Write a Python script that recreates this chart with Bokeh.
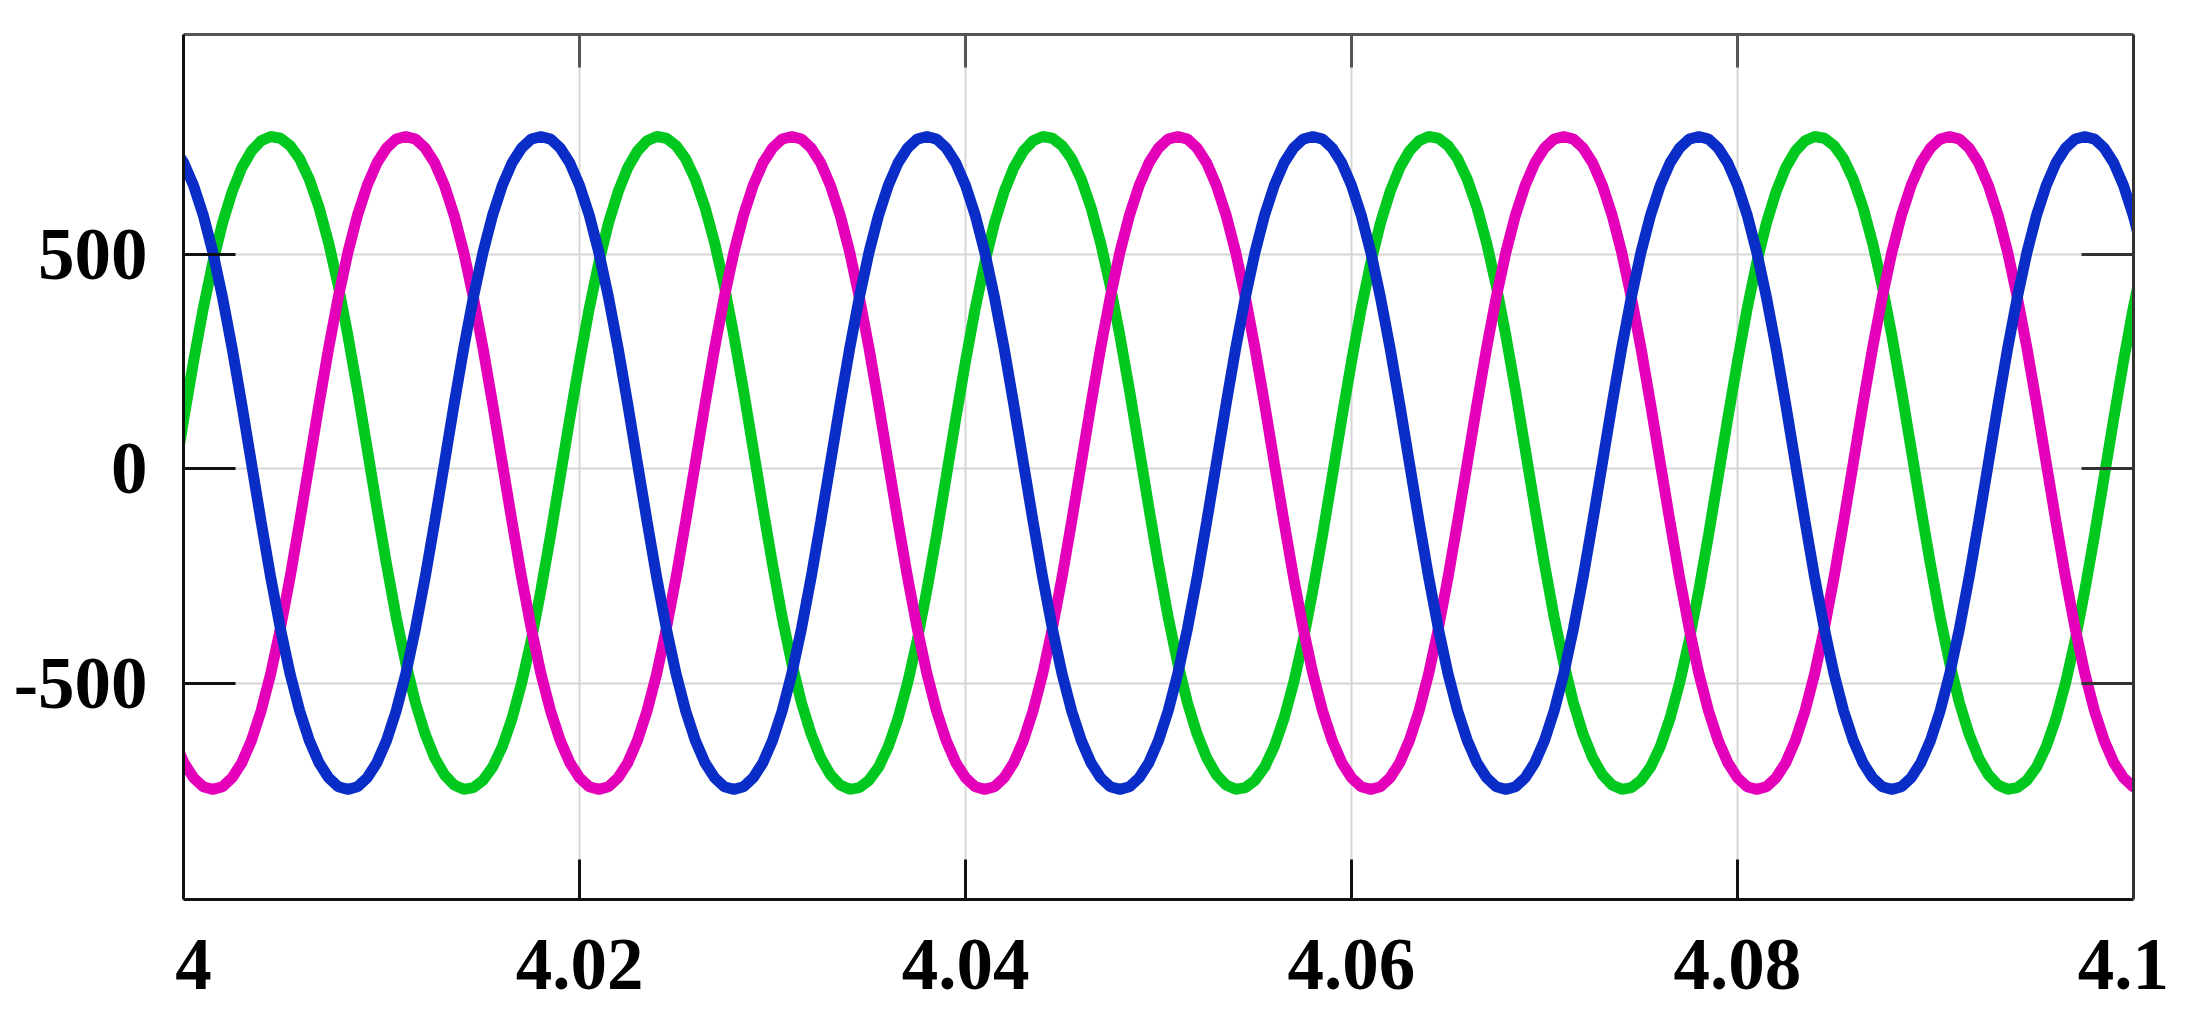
from bokeh.plotting import figure
from bokeh.models import FixedTicker, LinearAxis, Range1d
from bokeh.embed import file_html
from bokeh.resources import INLINE

# time samples (s), read every 0.5 ms
time = [
    3.999, 3.9995,
    4.0, 4.0005, 4.001, 4.0015, 4.002, 4.0025, 4.003, 4.0035, 4.004, 4.0045, 4.005, 4.0055, 4.006, 4.0065, 4.007, 4.0075, 4.008, 4.0085, 4.009, 4.0095,
    4.01, 4.0105, 4.011, 4.0115, 4.012, 4.0125, 4.013, 4.0135, 4.014, 4.0145, 4.015, 4.0155, 4.016, 4.0165, 4.017, 4.0175, 4.018, 4.0185, 4.019, 4.0195,
    4.02, 4.0205, 4.021, 4.0215, 4.022, 4.0225, 4.023, 4.0235, 4.024, 4.0245, 4.025, 4.0255, 4.026, 4.0265, 4.027, 4.0275, 4.028, 4.0285, 4.029, 4.0295,
    4.03, 4.0305, 4.031, 4.0315, 4.032, 4.0325, 4.033, 4.0335, 4.034, 4.0345, 4.035, 4.0355, 4.036, 4.0365, 4.037, 4.0375, 4.038, 4.0385, 4.039, 4.0395,
    4.04, 4.0405, 4.041, 4.0415, 4.042, 4.0425, 4.043, 4.0435, 4.044, 4.0445, 4.045, 4.0455, 4.046, 4.0465, 4.047, 4.0475, 4.048, 4.0485, 4.049, 4.0495,
    4.05, 4.0505, 4.051, 4.0515, 4.052, 4.0525, 4.053, 4.0535, 4.054, 4.0545, 4.055, 4.0555, 4.056, 4.0565, 4.057, 4.0575, 4.058, 4.0585, 4.059, 4.0595,
    4.06, 4.0605, 4.061, 4.0615, 4.062, 4.0625, 4.063, 4.0635, 4.064, 4.0645, 4.065, 4.0655, 4.066, 4.0665, 4.067, 4.0675, 4.068, 4.0685, 4.069, 4.0695,
    4.07, 4.0705, 4.071, 4.0715, 4.072, 4.0725, 4.073, 4.0735, 4.074, 4.0745, 4.075, 4.0755, 4.076, 4.0765, 4.077, 4.0775, 4.078, 4.0785, 4.079, 4.0795,
    4.08, 4.0805, 4.081, 4.0815, 4.082, 4.0825, 4.083, 4.0835, 4.084, 4.0845, 4.085, 4.0855, 4.086, 4.0865, 4.087, 4.0875, 4.088, 4.0885, 4.089, 4.0895,
    4.09, 4.0905, 4.091, 4.0915, 4.092, 4.0925, 4.093, 4.0935, 4.094, 4.0945, 4.095, 4.0955, 4.096, 4.0965, 4.097, 4.0975, 4.098, 4.0985, 4.099, 4.0995,
    4.1, 4.1005, 4.101,
]

phase_green = [
    -19, 118,
    250, 373, 481, 573, 646, 702, 741, 765, 775, 771, 754, 723, 675, 610, 527, 427, 310, 182, 46, -91,
    -223, -346, -454, -546, -619, -675, -714, -738, -748, -744, -727, -696, -648, -583, -500, -400, -283, -155, -19, 118,
    250, 373, 481, 573, 646, 702, 741, 765, 775, 771, 754, 723, 675, 610, 527, 427, 310, 182, 46, -91,
    -223, -346, -454, -546, -619, -675, -714, -738, -748, -744, -727, -696, -648, -583, -500, -400, -283, -155, -19, 118,
    250, 373, 481, 573, 646, 702, 741, 765, 775, 771, 754, 723, 675, 610, 527, 427, 310, 182, 46, -91,
    -223, -346, -454, -546, -619, -675, -714, -738, -748, -744, -727, -696, -648, -583, -500, -400, -283, -155, -19, 118,
    250, 373, 481, 573, 646, 702, 741, 765, 775, 771, 754, 723, 675, 610, 527, 427, 310, 182, 46, -91,
    -223, -346, -454, -546, -619, -675, -714, -738, -748, -744, -727, -696, -648, -583, -500, -400, -283, -155, -19, 118,
    250, 373, 481, 573, 646, 702, 741, 765, 775, 771, 754, 723, 675, 610, 527, 427, 310, 182, 46, -91,
    -223, -346, -454, -546, -619, -675, -714, -738, -748, -744, -727, -696, -648, -583, -500, -400, -283, -155, -19, 118,
    250, 373, 481,
]

phase_magenta = [
    -634, -686,
    -721, -742, -748, -742, -721, -686, -634, -565, -478, -373, -254, -123, 13, 150, 281, 400, 505, 592, 661, 713,
    748, 769, 775, 769, 748, 713, 661, 592, 505, 400, 281, 150, 13, -123, -254, -373, -478, -565, -634, -686,
    -721, -742, -748, -742, -721, -686, -634, -565, -478, -373, -254, -123, 13, 150, 281, 400, 505, 592, 661, 713,
    748, 769, 775, 769, 748, 713, 661, 592, 505, 400, 281, 150, 13, -123, -254, -373, -478, -565, -634, -686,
    -721, -742, -748, -742, -721, -686, -634, -565, -478, -373, -254, -123, 13, 150, 281, 400, 505, 592, 661, 713,
    748, 769, 775, 769, 748, 713, 661, 592, 505, 400, 281, 150, 13, -123, -254, -373, -478, -565, -634, -686,
    -721, -742, -748, -742, -721, -686, -634, -565, -478, -373, -254, -123, 13, 150, 281, 400, 505, 592, 661, 713,
    748, 769, 775, 769, 748, 713, 661, 592, 505, 400, 281, 150, 13, -123, -254, -373, -478, -565, -634, -686,
    -721, -742, -748, -742, -721, -686, -634, -565, -478, -373, -254, -123, 13, 150, 281, 400, 505, 592, 661, 713,
    748, 769, 775, 769, 748, 713, 661, 592, 505, 400, 281, 150, 13, -123, -254, -373, -478, -565, -634, -686,
    -721, -742, -748,
]

phase_blue = [
    748, 713,
    661, 592, 505, 400, 281, 150, 13, -123, -254, -373, -478, -565, -634, -686, -721, -742, -748, -742, -721, -686,
    -634, -565, -478, -373, -254, -123, 13, 150, 281, 400, 505, 592, 661, 713, 748, 769, 775, 769, 748, 713,
    661, 592, 505, 400, 281, 150, 13, -123, -254, -373, -478, -565, -634, -686, -721, -742, -748, -742, -721, -686,
    -634, -565, -478, -373, -254, -123, 13, 150, 281, 400, 505, 592, 661, 713, 748, 769, 775, 769, 748, 713,
    661, 592, 505, 400, 281, 150, 13, -123, -254, -373, -478, -565, -634, -686, -721, -742, -748, -742, -721, -686,
    -634, -565, -478, -373, -254, -123, 13, 150, 281, 400, 505, 592, 661, 713, 748, 769, 775, 769, 748, 713,
    661, 592, 505, 400, 281, 150, 13, -123, -254, -373, -478, -565, -634, -686, -721, -742, -748, -742, -721, -686,
    -634, -565, -478, -373, -254, -123, 13, 150, 281, 400, 505, 592, 661, 713, 748, 769, 775, 769, 748, 713,
    661, 592, 505, 400, 281, 150, 13, -123, -254, -373, -478, -565, -634, -686, -721, -742, -748, -742, -721, -686,
    -634, -565, -478, -373, -254, -123, 13, 150, 281, 400, 505, 592, 661, 713, 748, 769, 775, 769, 748, 713,
    661, 592, 505,
]

x_ticks = [4.0, 4.02, 4.04, 4.06, 4.08, 4.1]
x_tick_labels = ["4", "4.02", "4.04", "4.06", "4.08", "4.1"]
x_grid_ticks = [4.02, 4.04, 4.06, 4.08]
y_ticks = [-500, 0, 500]
y_tick_labels = ["-500", "0", "500"]

p = figure(width=2178, height=1014, output_backend="svg", toolbar_location=None,
           x_range=Range1d(3.99948, 4.10052), y_range=Range1d(-1005, 1013),
           min_border_left=183, min_border_right=45, min_border_top=34, min_border_bottom=115)
p.outline_line_color = None

xt = FixedTicker(ticks=x_ticks, minor_ticks=x_grid_ticks)
yt = FixedTicker(ticks=y_ticks, minor_ticks=[])

def style_x(ax, tick_in, color):
    ax.ticker = xt
    ax.major_tick_line_color = None
    ax.major_tick_in = 0
    ax.major_tick_out = 0
    ax.minor_tick_in = tick_in
    ax.minor_tick_out = 0
    ax.minor_tick_line_width = 3
    ax.minor_tick_line_color = color
    ax.axis_line_width = 3
    ax.axis_line_color = color

def style_y(ax, color):
    ax.ticker = yt
    ax.major_tick_in = 52
    ax.major_tick_out = 0
    ax.minor_tick_line_color = None
    ax.major_tick_line_width = 3
    ax.major_tick_line_color = color
    ax.axis_line_width = 3
    ax.axis_line_color = color

for ax in (p.xaxis[0], p.yaxis[0]):
    ax.major_label_text_font = "Liberation Serif"
    ax.major_label_text_font_style = "bold"
    ax.major_label_text_font_size = "73px"
    ax.major_label_text_color = "black"

xa = p.xaxis[0]
style_x(xa, 40, "#111111")
xa.major_label_overrides = dict(zip(x_ticks, x_tick_labels))
xa.major_label_standoff = 40

ya = p.yaxis[0]
style_y(ya, "#111111")
ya.major_label_overrides = dict(zip(y_ticks, y_tick_labels))
ya.major_label_standoff = 36

ta = LinearAxis()
style_x(ta, 33, "#555555")
ta.major_label_overrides = {v: "" for v in x_ticks}
ta.major_label_text_font_size = "1px"
ta.major_label_standoff = 0
p.add_layout(ta, "above")

ra = LinearAxis()
style_y(ra, "#333333")
ra.major_label_overrides = {v: "" for v in y_ticks}
ra.major_label_text_font_size = "1px"
ra.major_label_standoff = 0
p.add_layout(ra, "right")

p.xgrid.ticker = FixedTicker(ticks=x_grid_ticks, minor_ticks=[])
p.ygrid.ticker = yt
for g in (p.xgrid, p.ygrid):
    g.grid_line_color = "#d6d6d6"
    g.grid_line_width = 2

p.line(time, phase_green, line_color="#00c81e", line_width=11)
p.line(time, phase_magenta, line_color="#e400b9", line_width=11)
p.line(time, phase_blue, line_color="#0a2dc8", line_width=11)

open("out.html", "w").write(file_html(p, INLINE))
